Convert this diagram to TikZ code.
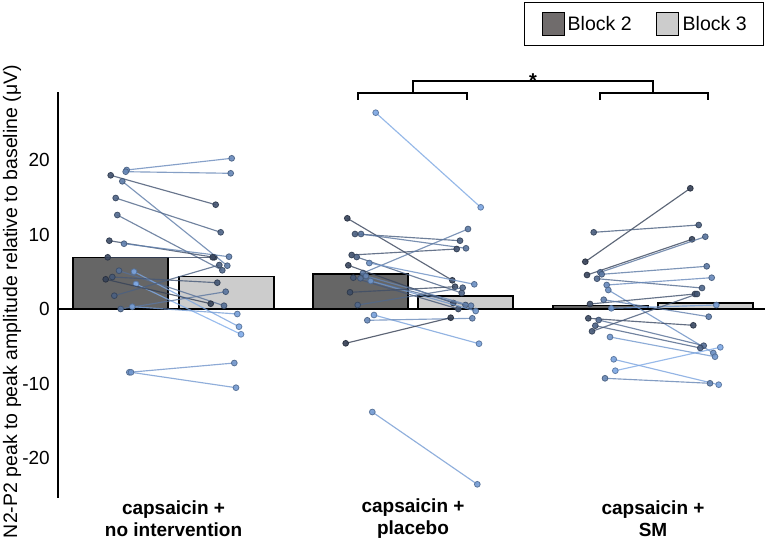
\documentclass[tikz,border=0pt]{standalone}
\usepackage{fontspec}
\setmainfont{Liberation Sans}
\definecolor{dk}{RGB}{50,60,80}
\definecolor{lt}{RGB}{128,172,234}
\definecolor{bardark}{RGB}{102,102,102}
\definecolor{barlight}{RGB}{204,204,204}
\definecolor{swdark}{RGB}{112,108,108}
\tikzset{
  barbox/.style={draw=black, line width=1.4pt},
  axisline/.style={line width=2.6pt, line cap=butt},
  subjline/.style={line width=1.15pt, opacity=0.8},
  subjdot/.style={circle, inner sep=0pt, minimum size=5.8pt, line width=0.8pt, opacity=0.9},
  ticklab/.style={anchor=east, inner sep=0pt, font=\fontsize{19}{22}\selectfont},
  catlab/.style={align=center, inner sep=0pt, font=\bfseries\fontsize{19}{22}\selectfont},
  bracket/.style={line width=2.4pt, line join=miter},
  legtext/.style={anchor=west, inner sep=0pt, font=\fontsize{19.5}{22}\selectfont},
  swatch/.style={draw=black, line width=1pt, minimum width=22pt, minimum height=23pt, inner sep=0pt}
}
\newcommand{\subjects}[3]{%
  \foreach [count=\i] \j/\a/\b in {#3} {
    \pgfmathtruncatemacro\p{min(100,max(0,(\j-#2)/32*100))}
    \colorlet{cc}{lt!\p!dk}
    \coordinate (A#1-\i) at (\j,\a);
    \coordinate (B#1-\i) at (\j+105,\b);
    \draw[subjline, cc] (A#1-\i) -- (B#1-\i);
    \node[subjdot, fill=cc, draw=cc!70!black] (PA#1-\i) at (A#1-\i) {};
    \node[subjdot, fill=cc, draw=cc!70!black] (PB#1-\i) at (B#1-\i) {};
  }%
}
\begin{document}
\begin{tikzpicture}[x=1pt,y=-1pt]
\useasboundingbox (0,0) rectangle (765,543);
% bars
\draw[barbox, fill=bardark] (73,309) rectangle (168,257.7);
\draw[barbox, fill=barlight] (179,309) rectangle (274,276.7);
\draw[barbox, fill=bardark] (313,309) rectangle (408,274);
\draw[barbox, fill=barlight] (418,309) rectangle (513,296);
\draw[barbox, fill=bardark] (553,309) rectangle (648,305.7);
\draw[barbox, fill=barlight] (658,309) rectangle (753,303);
% axes
\coordinate (ytop) at (58,92);
\coordinate (ybot) at (58,498);
\coordinate (zl) at (58,309);
\coordinate (zr) at (765,309);
\draw[axisline] (ytop) -- (ybot);
\draw[axisline] (zl) -- (zr);
% tick labels
\node[ticklab] (t20) at (50,160) {20};
\node[ticklab] (t10) at (50,234.5) {10};
\node[ticklab] (t0) at (50,309) {0};
\node[ticklab] (tm10) at (50,383.5) {-10};
\node[ticklab] (tm20) at (50,458) {-20};
% y label
\node[rotate=90, inner sep=0pt, font=\fontsize{19.5}{22}\selectfont] (ylab) at (12,301.5) {N2-P2 peak to peak amplitude relative to baseline (μV)};
% subjects
\subjects{1}{104}{126.7/170/158.3, 125.7/171.7/173.3, 110.7/175.3/204.7, 122.3/181.3/265.7, 115.7/198/232.3, 117.3/215/270.3, 109.3/240.7/257.3, 124/243.7/256.7, 107.7/257.3/257.3, 119/270.7/305.7, 134/271.7/326.7, 136/284/334.3, 105.7/279.3/303.7, 112.3/277/282.7, 114.3/295.7/265, 120.7/309/291.7, 132.3/306.7/314, 129.3/372.3/363, 131/372.3/387.7}
\subjects{2}{345}{375.7/112.7/207.3, 347.3/218.3/280.3, 355/234/240.7, 361/234/248.3, 351.7/255/249, 356.7/257/293, 363/273/229, 369.3/263/284.3, 348.3/265.3/303, 353.3/277.7/309, 360.5/278.3/305, 366/276/305.7, 370.7/281/311, 350/292.3/286.7, 357.7/305/287.7, 374/315/343.7, 367.3/320.3/318.3, 345.7/343.3/317.7, 372.3/412/484.3}
\subjects{3}{584}{585.3/261.7/188.3, 593.7/232.3/225, 587/275/239.3, 600.3/272.3/236.7, 601.7/274.3/266.3, 597/278.7/288, 606.7/285/277.7, 608.3/290/353, 590/304/294, 603.7/299.7/316.7, 611.3/308.3/305, 588.3/318.3/325.3, 598.7/320/345.7, 595.3/325.7/348, 592/331.3/294, 610/337/356.7, 613.7/359.3/384.7, 615.3/370.7/347.3, 605/378.3/383.3}
% category labels
\node[catlab] (c1) at (173.5,519) {capsaicin +\\no intervention};
\node[catlab] (c2) at (413,519) {capsaicin +\\placebo};
\node[catlab] (c3) at (653,519) {capsaicin +\\SM};
% significance brackets
\draw[bracket] (358,99.5) -- (358,93) -- (467,93) -- (467,99.5);
\draw[bracket] (600,99.5) -- (600,93) -- (708,93) -- (708,99.5);
\draw[bracket] (413,93) -- (413,81) -- (653,81) -- (653,93);
\node[anchor=base, inner sep=0pt, font=\bfseries\fontsize{20}{22}\selectfont] (star) at (533,88) {*};
% legend
\node[draw=black, line width=1.4pt, minimum width=239pt, minimum height=43pt, inner sep=0pt, anchor=north west] (legend) at (524,2) {};
\node[swatch, fill=swdark, anchor=north west] (sw2) at (542,12) {};
\node[legtext] (lb2) at (567.5,23.5) {Block 2};
\node[swatch, fill=barlight, anchor=north west] (sw3) at (656,12) {};
\node[legtext] (lb3) at (682.5,23.5) {Block 3};
\end{tikzpicture}
\end{document}
